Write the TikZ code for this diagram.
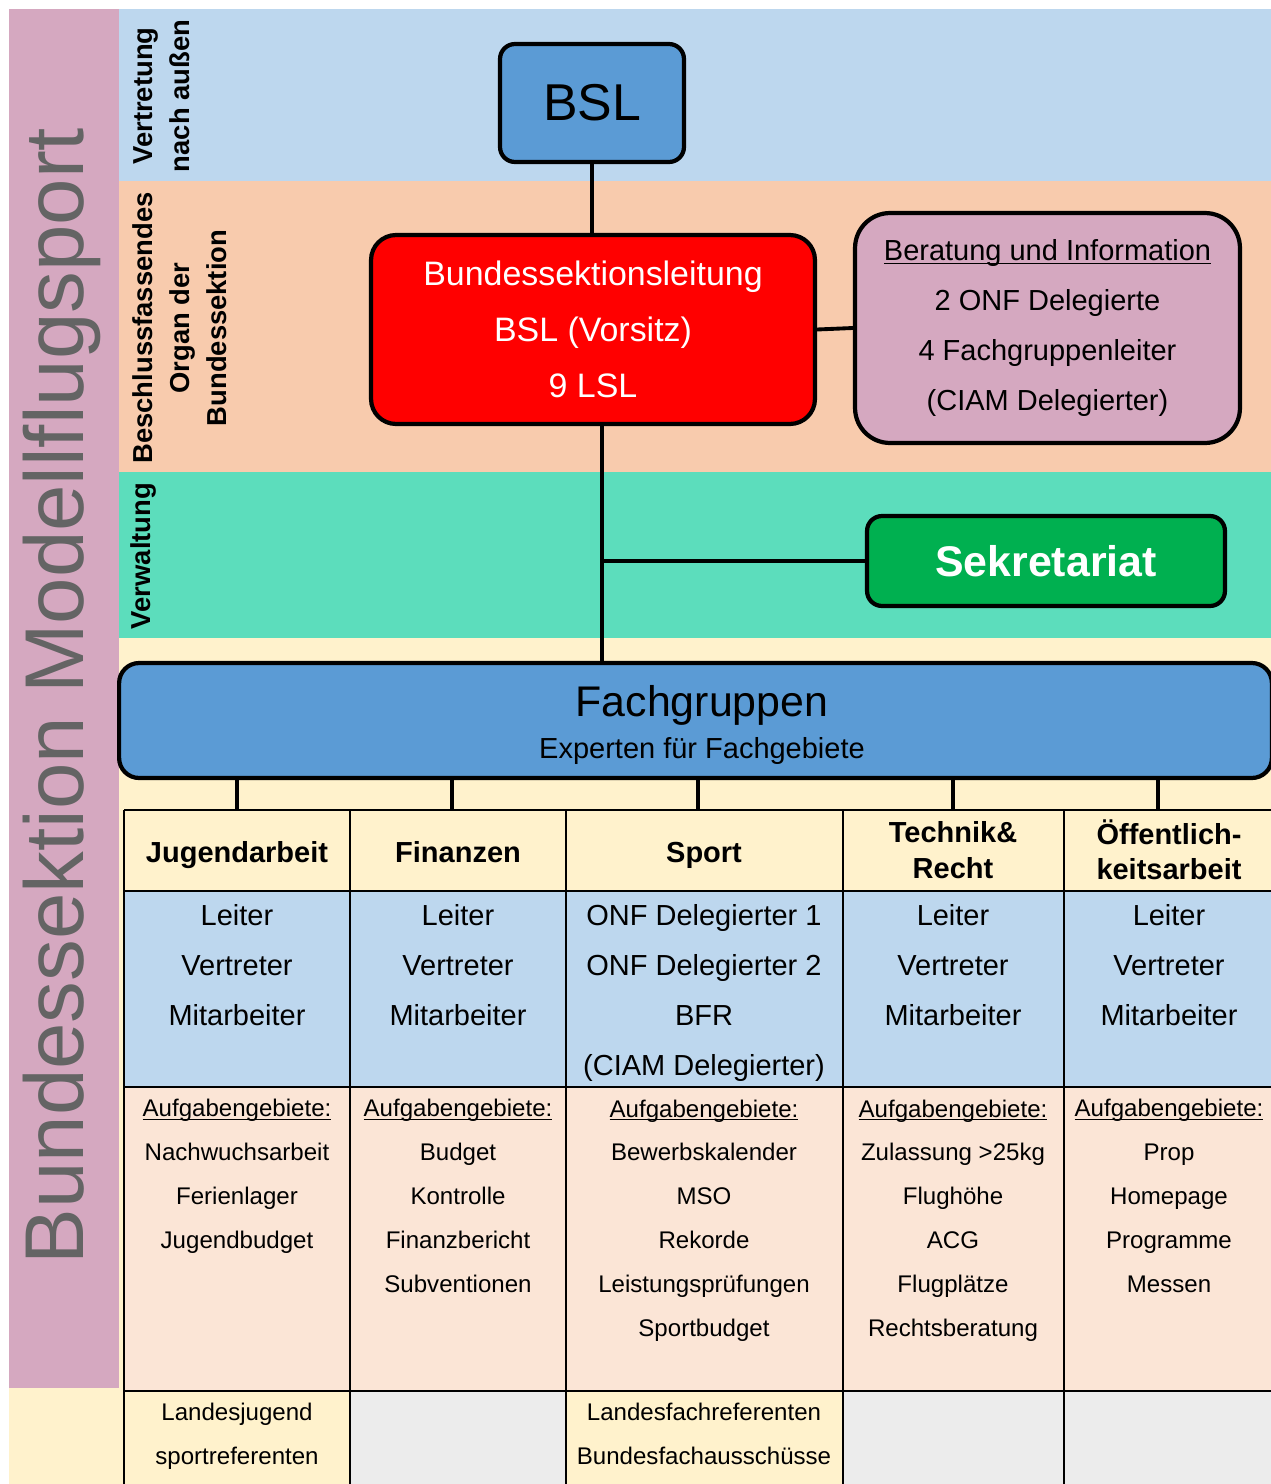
\documentclass[tikz,border=0pt]{standalone}
\usepackage{fontspec}
\setmainfont{Liberation Sans}

\definecolor{bandblue}{RGB}{189,215,238}
\definecolor{bandorange}{RGB}{248,203,173}
\definecolor{bandgreen}{RGB}{92,221,188}
\definecolor{bandyellow}{RGB}{255,242,204}
\definecolor{bandpink}{RGB}{213,168,192}
\definecolor{boxblue}{RGB}{91,155,213}
\definecolor{infopink}{RGB}{213,168,192}
\definecolor{sekgreen}{RGB}{0,176,80}
\definecolor{taskrose}{RGB}{251,229,214}
\definecolor{emptygray}{RGB}{236,236,236}
\definecolor{titlegray}{RGB}{100,100,100}

\newcommand\undl[1]{\setbox0\hbox{#1}\rlap{\rule[-1.6pt]{\wd0}{0.6pt}}\box0}

\begin{document}
\begin{tikzpicture}[x=0.02cm, y=-0.02cm,
    box/.style  = {rectangle, draw, line width=2.4pt, align=center, inner sep=0},
    link/.style = {line width=2.2pt},
    grid/.style = {line width=1.6pt},
    lbl/.style  = {rotate=90, align=center, inner sep=0, font=\fontsize{15.6}{21}\selectfont\bfseries},
    memb/.style = {align=center, inner sep=0, font=\fontsize{16.5}{28.35}\selectfont,
                   execute at begin node=\strut, execute at end node=\strut},
    head/.style = {align=center, inner sep=0, font=\fontsize{16.5}{20.4}\selectfont\bfseries,
                   execute at begin node=\strut, execute at end node=\strut},
    task/.style = {align=center, inner sep=0, font=\fontsize{13.7}{24.95}\selectfont,
                   execute at begin node=\strut, execute at end node=\strut}]
    \useasboundingbox (0,0) rectangle (1271,1484);
    \fill[white]      (0,0)    rectangle (1271,1484);
    \fill[bandblue]   (119,9)  rectangle (1271,181);
    \fill[bandorange] (119,181) rectangle (1271,472);
    \fill[bandgreen]  (119,472) rectangle (1271,638);
    \fill[bandyellow] (9,638)  rectangle (1271,1484);
    \fill[bandpink]   (9,9)    rectangle (119,1388);

    \node[rotate=90, inner sep=0, text=titlegray, font=\fontsize{47.5}{48}\selectfont] (title) at (62,696) {Bundessektion Modellflugsport};

    \node[lbl] (vertr) at (162,96)  {Vertretung\\nach außen};
    \node[lbl] (besch) at (180,328) {Beschlussfassendes\\Organ der\\Bundessektion};
    \node[lbl] (verw)  at (143,556) {Verwaltung};

    \node[box, fill=boxblue, rounded corners=0.3cm, minimum width=3.68cm, minimum height=2.36cm,
          font=\fontsize{29.5}{30}\selectfont] (bsl) at (592,103) {BSL};
    \node[box, fill=red, text=white, rounded corners=0.5cm, minimum width=8.88cm, minimum height=3.78cm,
          font=\fontsize{19.3}{31.75}\selectfont] (lead) at (593,329.5) {Bundessektionsleitung\\BSL (Vorsitz)\\9 LSL};
    \node[box, fill=infopink, rounded corners=0.7cm, minimum width=7.7cm, minimum height=4.6cm,
          font=\fontsize{16.5}{28.35}\selectfont] (info) at (1047.5,328)
          {\undl{Beratung und Information}\\2 ONF Delegierte\\4 Fachgruppenleiter\\(CIAM Delegierter)};
    \node[box, fill=sekgreen, text=white, rounded corners=0.3cm, minimum width=7.16cm, minimum height=1.8cm,
          font=\fontsize{24.4}{26}\selectfont\bfseries] (sek) at (1046,561) {Sekretariat};
    \node[box, fill=boxblue, rounded corners=0.4cm, minimum width=23.06cm, minimum height=2.3cm] (fg) at (695.5,720.5) {};
    \node[inner sep=0, font=\fontsize{24.4}{26}\selectfont] (fgtitle) at (702,705) {Fachgruppen};
    \node[inner sep=0, font=\fontsize{16.5}{18}\selectfont] (fgsub)   at (702,751) {Experten für Fachgebiete};

    \coordinate (spine) at (602,561);
    \draw[link] (bsl.south) -- (bsl.south |- lead.north);
    \draw[link] (lead.east) -- (info.west);
    \draw[link] (lead.south -| spine) -- (fg.north -| spine);
    \draw[link] (spine) -- (sek.west);

    \fill[bandyellow] (124,810)  rectangle (1280,891);
    \fill[bandblue]   (124,891)  rectangle (1280,1087);
    \fill[taskrose]   (124,1087) rectangle (1280,1391);
    \fill[bandyellow] (124,1391) rectangle (350,1490);
    \fill[emptygray]  (350,1391) rectangle (566,1490);
    \fill[bandyellow] (566,1391) rectangle (843,1490);
    \fill[emptygray]  (843,1391) rectangle (1280,1490);
    \draw[grid] (124,810) -- (1280,810) (124,891) -- (1280,891) (124,1087) -- (1280,1087) (124,1391) -- (1280,1391);
    \draw[grid] (124,810) -- (124,1490) (350,810) -- (350,1490) (566,810) -- (566,1490) (843,810) -- (843,1490) (1064,810) -- (1064,1490);
    \coordinate (tabtop) at (124,810);

    \node[head] (hjug)   at (237,855)  {Jugendarbeit};
    \node[head] (hfin)   at (458,855)  {Finanzen};
    \node[head] (hsport) at (704,855)  {Sport};
    \node[head] (htech)  at (953,855)  {Technik\&\\Recht};
    \node[head] (hoeff)  at (1169,855) {Öffentlich-\\keitsarbeit};

    \draw[link] (fg.south -| hjug) -- (tabtop -| hjug);
    \draw[link] ([xshift=-0.12cm]fg.south -| hfin) -- ([xshift=-0.12cm]tabtop -| hfin);
    \draw[link] ([xshift=-0.12cm]fg.south -| hsport) -- ([xshift=-0.12cm]tabtop -| hsport);
    \draw[link] (fg.south -| htech) -- (tabtop -| htech);
    \draw[link] ([xshift=-0.22cm]fg.south -| hoeff) -- ([xshift=-0.22cm]tabtop -| hoeff);

    \node[memb] (mjug)   at (237,972.5)  {Leiter\\Vertreter\\Mitarbeiter};
    \node[memb] (mfin)   at (458,972.5)  {Leiter\\Vertreter\\Mitarbeiter};
    \node[memb] (msport) at (704,997.5)  {ONF Delegierter 1\\ONF Delegierter 2\\BFR\\(CIAM Delegierter)};
    \node[memb] (mtech)  at (953,972.5)  {Leiter\\Vertreter\\Mitarbeiter};
    \node[memb] (moeff)  at (1169,972.5) {Leiter\\Vertreter\\Mitarbeiter};

    \node[task] (tjug)   at (237,1180.5)  {\undl{Aufgabengebiete:}\\Nachwuchsarbeit\\Ferienlager\\Jugendbudget};
    \node[task] (tfin)   at (458,1202.5)  {\undl{Aufgabengebiete:}\\Budget\\Kontrolle\\Finanzbericht\\Subventionen};
    \node[task] (tsport) at (704,1224.5)  {\undl{Aufgabengebiete:}\\Bewerbskalender\\MSO\\Rekorde\\Leistungsprüfungen\\Sportbudget};
    \node[task] (ttech)  at (953,1224.5)  {\undl{Aufgabengebiete:}\\Zulassung >25kg\\Flughöhe\\ACG\\Flugplätze\\Rechtsberatung};
    \node[task] (toeff)  at (1169,1202.5) {\undl{Aufgabengebiete:}\\Prop\\Homepage\\Programme\\Messen};

    \node[task] (ljug)   at (237,1440) {Landesjugend\\sportreferenten};
    \node[task] (lsport) at (704,1440) {Landesfachreferenten\\Bundesfachausschüsse};
  \end{tikzpicture}
\end{document}
